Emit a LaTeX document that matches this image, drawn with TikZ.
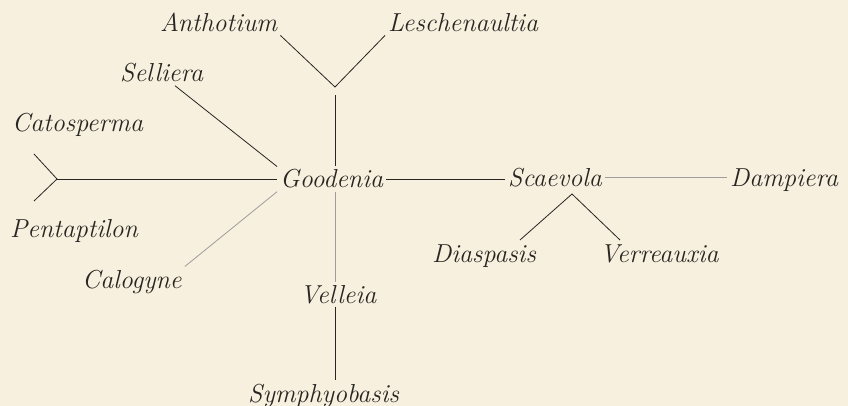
\documentclass[tikz,border=0pt]{standalone}
\usepackage{fontspec}
\usepackage{tikz}
\usetikzlibrary{calc}
\definecolor{paper}{RGB}{247,240,222}
\definecolor{ink}{RGB}{40,37,34}

\begin{document}
\begin{tikzpicture}[x=1pt,y=-1pt,
  taxon/.style={anchor=base west,inner sep=3pt,text=ink,font=\fontsize{26}{31}\selectfont\itshape},
  link/.style={draw=ink,line width=0.8pt},
  faint/.style={link,draw=ink!45}]
\fill[paper] (0,0) rectangle (848,406);
\useasboundingbox (0,0) rectangle (848,406);
\node[taxon] (antho) at (157,32) {Anthotium};
\node[taxon] (lesch) at (385,32) {Leschenaultia};
\node[taxon] (sell) at (117,82) {Selliera};
\node[taxon] (cato) at (9,132) {Catosperma};
\node[taxon] (good) at (277,188) {Goodenia};
\node[taxon] (scae) at (505,186) {Scaevola};
\node[taxon] (damp) at (727,186) {Dampiera};
\node[taxon] (dias) at (429,262) {Diaspasis};
\node[taxon] (verr) at (597,262) {Verreauxia};
\node[taxon] (pent) at (7,237) {Pentaptilon};
\node[taxon] (calo) at (79,288) {Calogyne};
\node[taxon] (vel) at (297,303) {Velleia};
\node[taxon] (symph) at (245,402) {Symphyobasis};
\coordinate (topfork) at (335,87);
\coordinate (topstem) at (335,95);
\coordinate (lfork) at (57,179);
\coordinate (catoarm) at (34,154);
\coordinate (pentarm) at (34,201);
\coordinate (sfork) at (572,194);
\coordinate (diasarm) at (520,240);
\coordinate (verrarm) at (620,240);
\draw[link] (antho.south east) -- (topfork) -- (lesch.south west);
\draw[link] (good.north -| topfork) -- (topstem);
\draw[link] ($(sell.south)!0.3!(sell.south east)$) -- (good.north west);
\draw[link] (catoarm) -- (lfork) -- (pentarm);
\draw[link] (lfork) -- (lfork -| good.west);
\draw[link] (good.east) -- (good.east -| scae.west);
\draw[faint] (scae.east) -- (scae.east -| damp.west);
\draw[link] (diasarm) -- (sfork) -- (verrarm);
\draw[faint] (good.south west) -- (calo.north east);
\draw[faint] (good.south -| topfork) -- (vel.north -| topfork);
\draw[link] (vel.south -| topfork) -- (symph.north -| topfork);
\end{tikzpicture}
\end{document}
